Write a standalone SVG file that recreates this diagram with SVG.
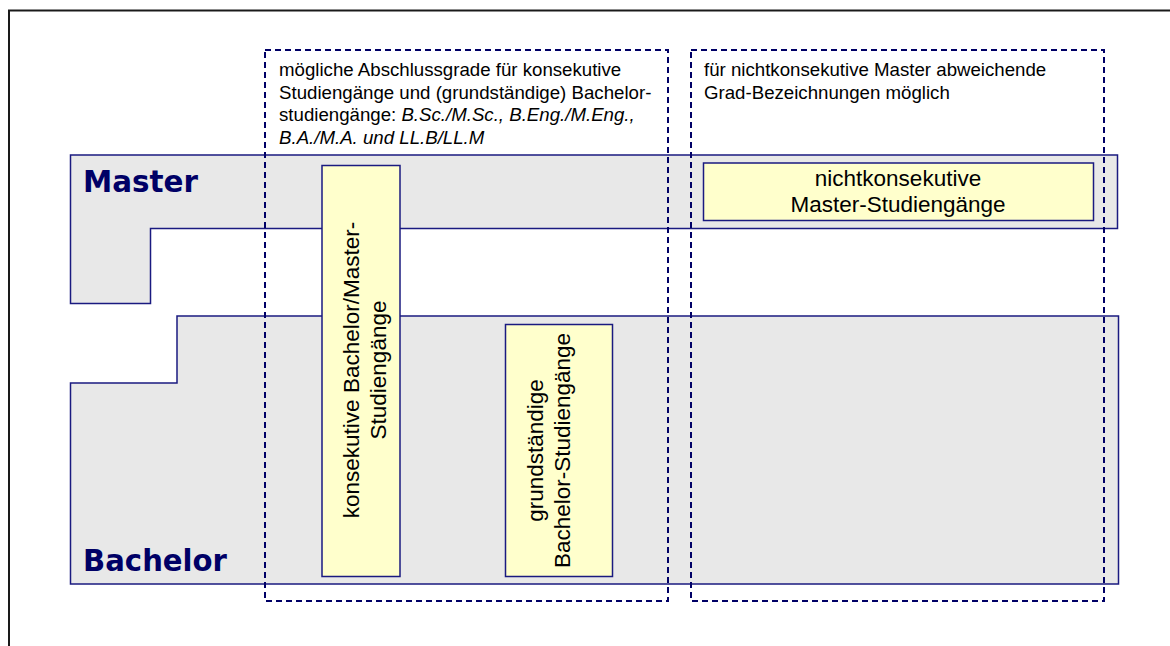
<svg xmlns="http://www.w3.org/2000/svg" width="1170" height="646" viewBox="0 0 1170 646">
<style>
.level{fill:#e8e8e8;stroke:#1a1a80;stroke-width:1.5}
.zone{fill:none;stroke:#000066;stroke-width:2;stroke-dasharray:6,4}
.prog{fill:#ffffcc;stroke:#1a1a80;stroke-width:1.5}
.big{font-family:"DejaVu Sans",Verdana,sans-serif;font-weight:bold;font-size:30px;fill:#000066}
.note{font-family:"Liberation Sans",Arial,sans-serif;font-size:18.67px;fill:#000}
.lbl{font-family:"Liberation Sans",Arial,sans-serif;font-size:22.5px;fill:#000;text-anchor:middle}
.it{font-style:italic}
</style>
<rect x="0" y="0" width="1170" height="646" fill="#fff"/>
<rect id="frame" x="9" y="10.5" width="1200" height="700" fill="none" stroke="#1a1a1a" stroke-width="2"/>
<g id="master-level">
<path class="level" d="M70.5,155 H1117.5 V228.5 H150.5 V303.5 H70.5 Z"/>
<text class="big" x="83" y="192" textLength="115" lengthAdjust="spacingAndGlyphs">Master</text>
</g>
<g id="bachelor-level">
<path class="level" d="M177,316 H1118.5 V584 H70.5 V383 H177 Z"/>
<text class="big" x="83" y="571" textLength="144" lengthAdjust="spacingAndGlyphs">Bachelor</text>
</g>
<g id="zone-konsekutiv">
<rect class="zone" x="265" y="50" width="403" height="551"/>
<text class="note" x="279" y="76">mögliche Abschlussgrade für konsekutive</text>
<text class="note" x="279" y="98.5">Studiengänge und (grundständige) Bachelor-</text>
<text class="note" x="279" y="121">studiengänge: <tspan class="it">B.Sc./M.Sc., B.Eng./M.Eng.,</tspan></text>
<text class="note it" x="279" y="143.5">B.A./M.A. und LL.B/LL.M</text>
</g>
<g id="zone-nichtkonsekutiv">
<rect class="zone" x="691" y="50" width="413" height="551"/>
<text class="note" x="704" y="76">für nichtkonsekutive Master abweichende</text>
<text class="note" x="704" y="98.5">Grad-Bezeichnungen möglich</text>
</g>
<g id="konsekutive-studiengaenge">
<rect class="prog" x="322" y="165.5" width="78" height="411"/>
<text class="lbl" transform="translate(359,370) rotate(-90)">konsekutive Bachelor/Master-</text>
<text class="lbl" transform="translate(386,370) rotate(-90)">Studiengänge</text>
</g>
<g id="grundstaendige-bachelor">
<rect class="prog" x="505.5" y="324.5" width="107" height="252"/>
<text class="lbl" transform="translate(542.5,450.5) rotate(-90)">grundständige</text>
<text class="lbl" transform="translate(570,450.5) rotate(-90)">Bachelor-Studiengänge</text>
</g>
<g id="nichtkonsekutive-master">
<rect class="prog" x="703.5" y="163" width="390" height="57.5"/>
<text class="lbl" x="898" y="186">nichtkonsekutive</text>
<text class="lbl" x="898" y="212">Master-Studiengänge</text>
</g>
<g id="connectors"></g>
</svg>
